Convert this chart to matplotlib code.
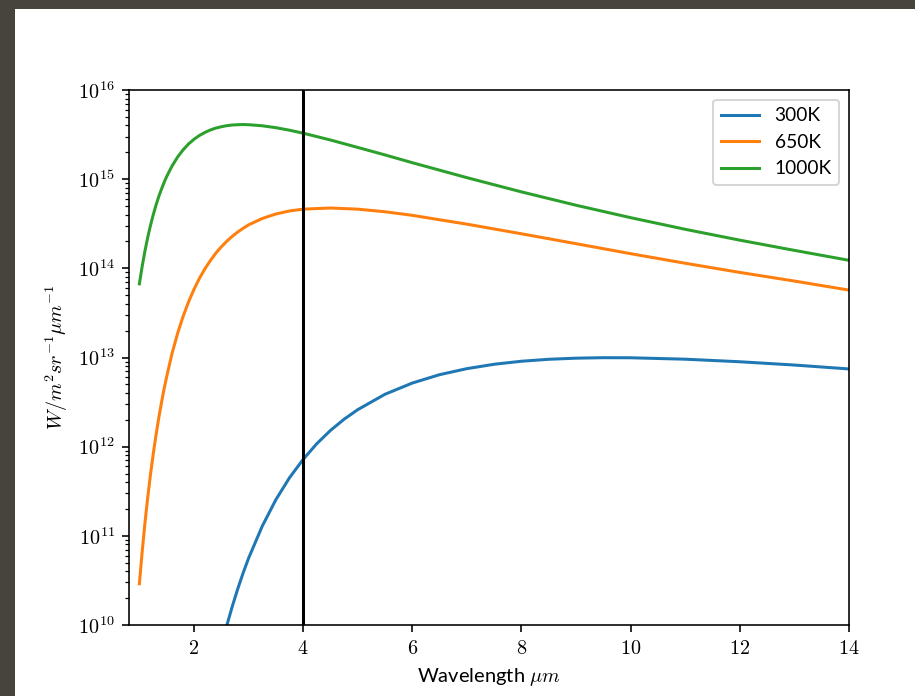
import matplotlib
matplotlib.use("Agg")
import matplotlib.pyplot as plt
from matplotlib.ticker import FuncFormatter, FixedLocator
from matplotlib.patches import Rectangle
import numpy as np

plt.rcParams['mathtext.fontset'] = 'cm'

# Wavelength grid (um) shared by the 650K and 1000K curves
wl_hot = [1.0, 1.05, 1.1, 1.15, 1.2, 1.25, 1.3, 1.35, 1.4, 1.45, 1.5, 1.6, 1.7,
          1.8, 1.9, 2.0, 2.1, 2.2, 2.3, 2.4, 2.5, 2.6, 2.7, 2.8, 2.9, 3.0,
          3.25, 3.5, 3.75, 4.0, 4.5, 5.0, 5.5, 6.0, 7.0, 8.0, 9.0, 10.0,
          11.0, 12.0, 13.0, 14.0]
rad_1000 = [6.7e13, 1.04e14, 1.54e14, 2.18e14, 2.97e14, 3.91e14, 5.0e14,
            6.25e14, 7.6e14, 9.1e14, 1.07e15, 1.41e15, 1.77e15, 2.13e15,
            2.48e15, 2.80e15, 3.09e15, 3.34e15, 3.56e15, 3.74e15, 3.87e15,
            3.98e15, 4.05e15, 4.08e15, 4.10e15, 4.08e15, 3.97e15, 3.78e15,
            3.54e15, 3.28e15, 2.75e15, 2.27e15, 1.87e15, 1.53e15, 1.04e15,
            7.2e14, 5.1e14, 3.7e14, 2.74e14, 2.07e14, 1.59e14, 1.23e14]
rad_650 = [2.9e10, 6.5e10, 1.35e11, 2.59e11, 4.7e11, 7.96e11, 1.29e12,
           2.01e12, 3.0e12, 4.36e12, 6.1e12, 1.12e13, 1.86e13, 2.88e13,
           4.19e13, 5.8e13, 7.71e13, 9.87e13, 1.22e14, 1.48e14, 1.74e14,
           2.01e14, 2.28e14, 2.55e14, 2.81e14, 3.07e14, 3.62e14, 4.07e14,
           4.40e14, 4.61e14, 4.75e14, 4.61e14, 4.31e14, 3.93e14, 3.13e14,
           2.44e14, 1.89e14, 1.46e14, 1.14e14, 9.0e13, 7.2e13, 5.7e13]

# Wavelength grid (um) for the 300K curve (visible part)
wl_cold = [2.5, 2.6, 2.7, 2.8, 2.9, 3.0, 3.25, 3.5, 3.75, 4.0, 4.25, 4.5, 4.75,
           5.0, 5.5, 6.0, 6.5, 7.0, 7.5, 8.0, 8.5, 9.0, 9.5, 10.0, 11.0, 12.0,
           13.0, 14.0]
rad_300 = [5.7e9, 9.8e9, 1.60e10, 2.52e10, 3.82e10, 5.6e10, 1.28e11, 2.54e11,
           4.48e11, 7.2e11, 1.08e12, 1.52e12, 2.03e12, 2.6e12, 3.87e12,
           5.17e12, 6.42e12, 7.5e12, 8.4e12, 9.08e12, 9.55e12, 9.83e12,
           9.95e12, 9.93e12, 9.57e12, 8.96e12, 8.23e12, 7.44e12]

labels = ['300K', '650K', '1000K']
marker_wl = 4.0
x_ticks = [2, 4, 6, 8, 10, 12, 14]

W, H = 915, 696
DPI = 145
fig = plt.figure(figsize=(W / DPI, H / DPI), dpi=DPI)
fig.patch.set_facecolor('white')

# screenshot border
border = '#47443e'
fig.patches.append(Rectangle((0, 0), 15 / W, 1, transform=fig.transFigure,
                             facecolor=border, edgecolor='none', zorder=-1))
fig.patches.append(Rectangle((0, 1 - 9 / H), 1, 9 / H, transform=fig.transFigure,
                             facecolor=border, edgecolor='none', zorder=-1))

ax = fig.add_axes([129 / W, (H - 625) / H, 720 / W, 535 / H])

ax.plot(wl_cold, rad_300, color='#1f77b4', lw=1.5, label=labels[0])
ax.plot(wl_hot, rad_650, color='#ff7f0e', lw=1.5, label=labels[1])
ax.plot(wl_hot, rad_1000, color='#2ca02c', lw=1.5, label=labels[2])
ax.axvline(marker_wl, color='black', lw=1.5)

ax.set_yscale('log')
ax.set_ylim(1e10, 1e16)
ax.set_xlim(0.81, 14)
ax.xaxis.set_major_locator(FixedLocator(x_ticks))
ax.xaxis.set_major_formatter(FuncFormatter(lambda v, p: r'$%d$' % round(v)))
ax.yaxis.set_major_formatter(FuncFormatter(lambda v, p: r'$10^{%d}$' % round(np.log10(v))))

ax.set_xlabel(r'Wavelength $\mu m$', family='Lato', fontsize=10)
ax.set_ylabel(r'$W/m^2 sr^{-1} \mu m^{-1}$', fontsize=10)

leg = ax.legend(loc='upper right', prop={'family': 'Lato', 'size': 9.5})

fig.savefig('out.png', dpi=DPI)
